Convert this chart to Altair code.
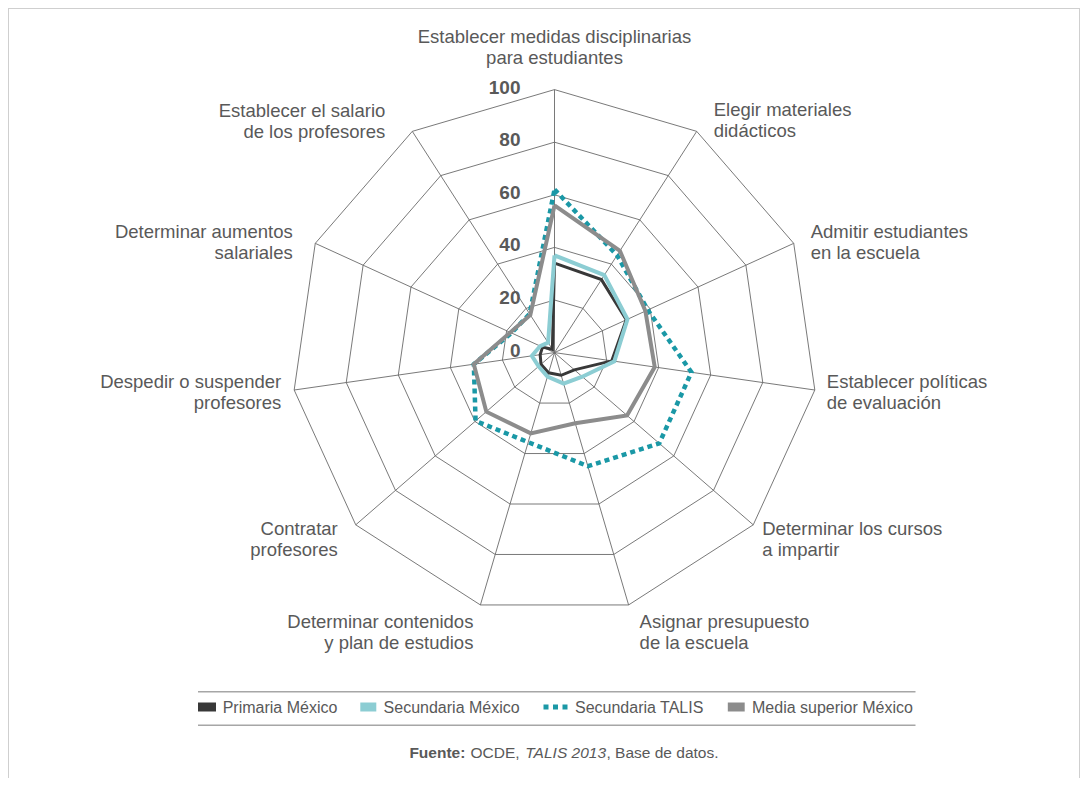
import altair as alt
import pandas as pd

# ---------------- data ----------------
categories = [
    "Establecer medidas disciplinarias\npara estudiantes",
    "Elegir materiales\ndidácticos",
    "Admitir estudiantes\nen la escuela",
    "Establecer políticas\nde evaluación",
    "Determinar los cursos\na impartir",
    "Asignar presupuesto\nde la escuela",
    "Determinar contenidos\ny plan de estudios",
    "Contratar\nprofesores",
    "Despedir o suspender\nprofesores",
    "Determinar aumentos\nsalariales",
    "Establecer el salario\nde los profesores",
]
series_names = ["Primaria México", "Secundaria México", "Secundaria TALIS", "Media superior México"]
primaria = [34, 33, 30, 22, 10, 9, 8, 6.8, 5.5, 5, 1.5]
secundaria_mx = [37, 35, 30.5, 23, 14, 12.3, 9.5, 8, 8.7, 6, 4.5]
secundaria_talis = [62, 44, 39, 52.6, 52.7, 45, 35.5, 39.7, 31, 18, 17.5]
media_superior = [56, 46, 38, 38.5, 36.5, 28, 32, 34.3, 31, 18.5, 17]
tick_levels = [0, 20, 40, 60, 80, 100]
source_parts = ["Fuente:", "OCDE,", "TALIS 2013", ", Base de datos."]

N = len(categories)
all_series = [primaria, secundaria_mx, secundaria_talis, media_superior]

# ---------------- layout / style ----------------
W, H = 1072, 770
CX, CY = 546.5, 344.6          # centre of the radar in plot pixels
PXU = 2.63                     # pixels per value unit
FONT = "Liberation Sans"
TXT = "#595959"
xscale = alt.Scale(domain=[-CX / PXU, (W - CX) / PXU], nice=False, zero=False)
yscale = alt.Scale(domain=[-(H - CY) / PXU, CY / PXU], nice=False, zero=False)
ANG = f"(datum.k * 2 * PI / {N})"
XE = f"datum.value * sin({ANG})"
YE = f"datum.value * cos({ANG})"

series_style = {
    "Primaria México": dict(color="#383838", strokeWidth=3),
    "Secundaria México": dict(color="#8ccdd3", strokeWidth=4),
    "Secundaria TALIS": dict(color="#1a98a6", strokeWidth=4.5, strokeDash=[5, 4]),
    "Media superior México": dict(color="#8c8c8c", strokeWidth=4),
}
LSHIFT = -10.5
label_style = {
    0: ("center", 0, -42), 1: ("left", 17, -10.5), 2: ("left", 17, -1),
    3: ("left", 12, 2), 4: ("left", 9, 14.5), 5: ("left", 11, 27.5),
    6: ("right", -7, 27.5), 7: ("right", -18, 14.5), 8: ("right", -13, 2.5),
    9: ("right", -22.5, -1), 10: ("right", -27, -10),
}
legend_pos = {  # symbol start, symbol end, text start (plot px)
    "Primaria México": (190, 208, 214.7),
    "Secundaria México": (352.3, 368.3, 375.6),
    "Secundaria TALIS": (535.5, 560, 567),
    "Media superior México": (719.8, 736.7, 744),
}
LEG_Y = 699
footer_x = [401.4, 462.5, 517.3, 598.5]
FOOT_Y = 744.7

# ---------------- tables ----------------
ser_rows = []
for name, vals in zip(series_names, all_series):
    for k in range(N + 1):
        ser_rows.append({"series": name, "k": k, "value": vals[k % N]})
ser_df = pd.DataFrame(ser_rows)

ring_df = pd.DataFrame([{"level": lv, "k": k, "value": lv}
                        for lv in tick_levels[1:] for k in range(N + 1)])
spoke_df = pd.DataFrame([{"k": k, "value": tick_levels[-1]} for k in range(N)])
label_df = pd.DataFrame([{"k": k, "label": c, "value": tick_levels[-1]}
                         for k, c in enumerate(categories)])
tick_df = pd.DataFrame({"value": tick_levels, "k": 0, "txt": [str(t) for t in tick_levels]})
legend_df = pd.DataFrame({"series": series_names})
foot_df = pd.DataFrame({"part": source_parts, "i": list(range(len(source_parts)))})
one = pd.DataFrame({"a": [0]})

X = alt.X("x:Q", scale=xscale, axis=None)
Y = alt.Y("y:Q", scale=yscale, axis=None)

layers = []

# frame
frame_c = "#cfcfcf"
layers.append(alt.Chart(one).mark_rule(color=frame_c, strokeWidth=1).encode(
    x=alt.value(0), x2=alt.value(W), y=alt.value(0.5)))
layers.append(alt.Chart(one).mark_rule(color=frame_c, strokeWidth=1).encode(
    x=alt.value(0.5), y=alt.value(0), y2=alt.value(H)))
layers.append(alt.Chart(one).mark_rule(color=frame_c, strokeWidth=1).encode(
    x=alt.value(W - 0.5), y=alt.value(0), y2=alt.value(H)))

# grid rings
layers.append(alt.Chart(ring_df).transform_calculate(x=XE, y=YE).mark_line(
    color="#6a6a6a", strokeWidth=0.9).encode(
    x=X, y=Y, detail="level:N", order=alt.Order("k:Q")))
# spokes
layers.append(alt.Chart(spoke_df).transform_calculate(x=XE, y=YE, x0="0", y0="0").mark_rule(
    color="#6a6a6a", strokeWidth=0.9).encode(
    x=alt.X("x0:Q", scale=xscale, axis=None), y=alt.Y("y0:Q", scale=yscale, axis=None),
    x2="x:Q", y2="y:Q"))

# series
for name in series_names:
    st = series_style[name]
    layers.append(alt.Chart(ser_df).transform_filter(alt.datum.series == name)
                  .transform_calculate(x=XE, y=YE)
                  .mark_line(strokeJoin="miter", strokeCap="butt", **st)
                  .encode(x=X, y=Y, order=alt.Order("k:Q")))

# tick labels
layers.append(alt.Chart(tick_df).transform_calculate(x=XE, y=YE).mark_text(
    align="right", baseline="middle", dx=-34, dy=-2, font=FONT, fontSize=19,
    fontWeight="bold", color=TXT).encode(x=X, y=Y, text="txt:N"))

# category labels
for k in range(N):
    al, dx, dy = label_style[k]
    layers.append(alt.Chart(label_df).transform_filter(alt.datum.k == k)
                  .transform_calculate(x=XE, y=YE)
                  .mark_text(align=al, baseline="middle", dx=dx, dy=dy + LSHIFT, font=FONT,
                             fontSize=18.5, lineBreak="\n", lineHeight=21, color=TXT)
                  .encode(x=X, y=Y, text="label:N"))

# legend
layers.append(alt.Chart(one).mark_rule(color="#a6a6a6", strokeWidth=1.5).encode(
    x=alt.value(190), x2=alt.value(907.5), y=alt.value(683.7)))
layers.append(alt.Chart(one).mark_rule(color="#a6a6a6", strokeWidth=1.5).encode(
    x=alt.value(190), x2=alt.value(907.5), y=alt.value(717.3)))
for name in series_names:
    st = series_style[name]
    x0, x1, xt = legend_pos[name]
    base = alt.Chart(legend_df).transform_filter(alt.datum.series == name)
    if "strokeDash" in st:
        sym = base.mark_rule(color=st["color"], strokeWidth=5, strokeDash=[5, 4.5], strokeCap="butt")
    else:
        sym = base.mark_rule(color=st["color"], strokeWidth=9, strokeCap="butt")
    layers.append(sym.encode(x=alt.value(x0), x2=alt.value(x1), y=alt.value(LEG_Y)))
    layers.append(base.mark_text(align="left", baseline="middle", font=FONT, fontSize=16,
                                 color=TXT).encode(x=alt.value(xt), y=alt.value(LEG_Y + 0.5),
                                                   text="series:N"))

# footer
foot_weight = ["bold", "normal", "normal", "normal"]
foot_style = ["normal", "normal", "italic", "normal"]
for i in range(len(source_parts)):
    layers.append(alt.Chart(foot_df).transform_filter(alt.datum.i == i).mark_text(
        align="left", baseline="middle", font=FONT, fontSize=15.5, color=TXT,
        fontWeight=foot_weight[i], fontStyle=foot_style[i]).encode(
        x=alt.value(footer_x[i]), y=alt.value(FOOT_Y), text="part:N"))

chart = alt.layer(*layers).properties(
    width=W, height=H, padding=0, autosize=alt.AutoSizeParams(type="none"),
    background="white",
).configure_view(stroke=None)

chart.save("out.html", embed_options={"renderer": "svg", "actions": False})
